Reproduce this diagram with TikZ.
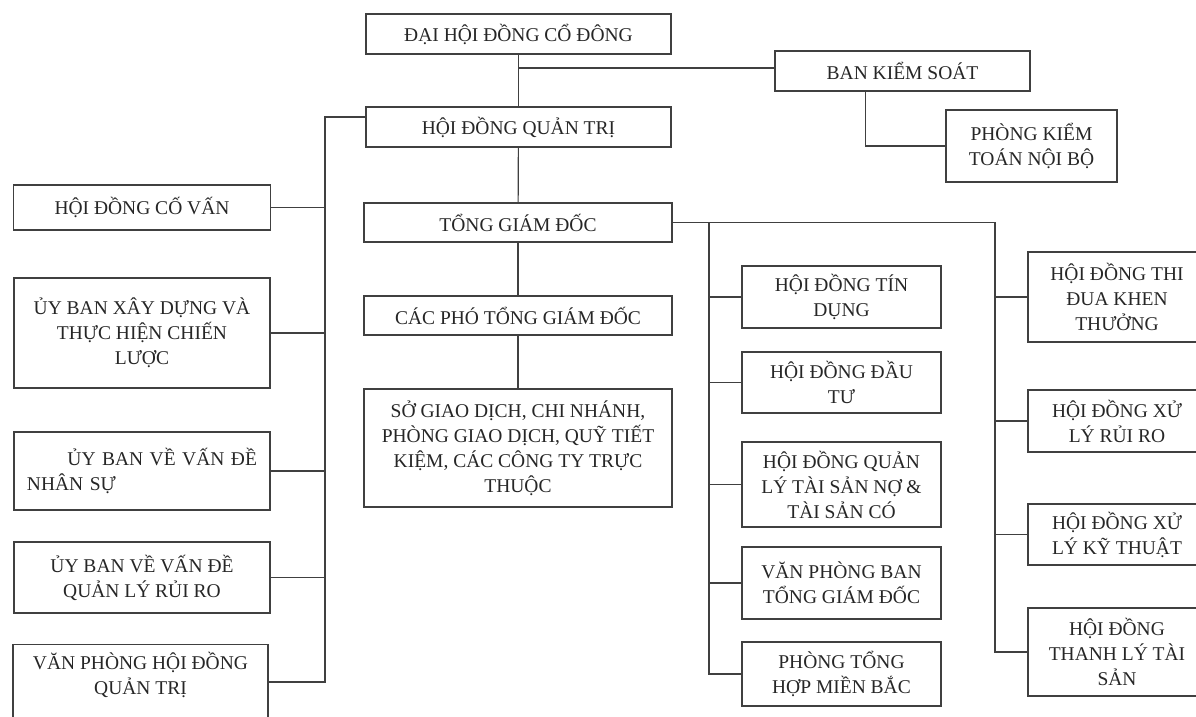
\documentclass[tikz,border=0pt]{standalone}
\usepackage{fontspec}
\setmainfont{Liberation Serif}
\usetikzlibrary{calc}

\begin{document}
\begin{tikzpicture}[x=1pt,y=-1pt]
  \tikzset{box/.style={draw=black!75,line width=1.2pt,align=center,inner sep=2pt,
      text=black!85,font=\fontsize{19.5}{25}\selectfont}}
  \tikzset{link/.style={draw=black!75,line width=1.2pt}}
  \useasboundingbox (0,0) rectangle (1196,716);
  \clip (0,0) rectangle (1196,716);

  % Top of the chart
  \node[box,minimum width=305pt,minimum height=40pt] (dhdcd) at (518.5,34) {ĐẠI HỘI ĐỒNG CỔ ĐÔNG};
  \node[box,minimum width=255pt,minimum height=40pt] (bks) at (902.5,71) {BAN KIỂM SOÁT};
  \node[box,minimum width=171pt,minimum height=72pt] (pktnb) at (1031.5,146) {PHÒNG KIỂM\\TOÁN NỘI BỘ};
  \node[box,minimum width=305pt,minimum height=40pt] (hdqt) at (518.5,127) {HỘI ĐỒNG QUẢN TRỊ};

  % Left column
  \node[box,minimum width=257pt,minimum height=45pt] (hdcv) at (142,207.5) {HỘI ĐỒNG CỐ VẤN};
  \node[box,minimum width=256pt,minimum height=110pt] (uyxd) at (142,333) {ỦY BAN XÂY DỰNG VÀ\\THỰC HIỆN CHIẾN\\LƯỢC};
  \node[box,minimum width=256pt,minimum height=78pt,text width=230pt,align=left] (uyns) at (142,471)
    {\hspace*{\fill}ỦY BAN VỀ VẤN ĐỀ\hspace*{\fill}\\NHÂN SỰ\\[-10pt]};
  \node[box,minimum width=256pt,minimum height=71pt] (uyrr) at (142,577.5) {ỦY BAN VỀ VẤN ĐỀ\\QUẢN LÝ RỦI RO};
  \node[box,minimum width=255pt,anchor=north,inner ysep=8pt,text depth=50pt] (vphdqt) at (140.5,644)
    {VĂN PHÒNG HỘI ĐỒNG\\QUẢN TRỊ};

  % Centre column
  \node[box,minimum width=308pt,minimum height=39pt] (tgd) at (518,222.5) {TỔNG GIÁM ĐỐC};
  \node[box,minimum width=308pt,minimum height=39pt] (ptgd) at (518,315.5) {CÁC PHÓ TỔNG GIÁM ĐỐC};
  \node[box,minimum width=308pt,minimum height=118pt] (sgd) at (518,448)
    {SỞ GIAO DỊCH, CHI NHÁNH,\\PHÒNG GIAO DỊCH, QUỸ TIẾT\\KIỆM, CÁC CÔNG TY TRỰC\\THUỘC};

  % Councils under the CEO
  \node[box,minimum width=199pt,minimum height=62pt] (hdtd) at (841.5,297) {HỘI ĐỒNG TÍN\\DỤNG};
  \node[box,minimum width=199pt,minimum height=61pt] (hddt) at (841.5,382.5) {HỘI ĐỒNG ĐẦU\\TƯ};
  \node[box,minimum width=199pt,minimum height=85pt] (hdqlts) at (841.5,484.5) {HỘI ĐỒNG QUẢN\\LÝ TÀI SẢN NỢ \&\\TÀI SẢN CÓ};
  \node[box,minimum width=199pt,minimum height=72pt] (vpbtgd) at (841.5,583) {VĂN PHÒNG BAN\\TỔNG GIÁM ĐỐC};
  \node[box,minimum width=199pt,minimum height=64pt] (pthmb) at (841.5,674) {PHÒNG TỔNG\\HỢP MIỀN BẮC};

  \node[box,minimum width=178pt,minimum height=90pt] (hdtdkt) at (1117,297) {HỘI ĐỒNG THI\\ĐUA KHEN\\THƯỞNG};
  \node[box,minimum width=178pt,minimum height=62pt] (hdxlrr) at (1117,421) {HỘI ĐỒNG XỬ\\LÝ RỦI RO};
  \node[box,minimum width=178pt,minimum height=61pt] (hdxlkt) at (1117,534.5) {HỘI ĐỒNG XỬ\\LÝ KỸ THUẬT};
  \node[box,minimum width=178pt,minimum height=88pt] (hdtlts) at (1117,652) {HỘI ĐỒNG\\THANH LÝ TÀI\\SẢN};

  % Bus lines
  \coordinate (lbus) at (325,117);
  \coordinate (mbus) at (709,222.5);
  \coordinate (rbus) at (995,222.5);

  % Connectors
  \draw[link] (dhdcd) -- (hdqt);
  \draw[link] (dhdcd.south |- 0,68) -- (bks.west |- 0,68);
  \draw[link] ([xshift=-37pt]bks.south) |- (pktnb.west);
  \draw[link] (hdqt) -- (tgd);
  \draw[link] (tgd) -- (ptgd);
  \draw[link] (ptgd) -- (sgd);

  \draw[link] (hdqt.west |- lbus) -- (lbus) -- (lbus |- 0,682) -- ([yshift=-38pt]vphdqt.north east);
  \draw[link] (hdcv.east) -- (hdcv.east -| lbus);
  \draw[link] (uyxd.east) -- (uyxd.east -| lbus);
  \draw[link] (uyns.east) -- (uyns.east -| lbus);
  \draw[link] (uyrr.east) -- (uyrr.east -| lbus);

  \draw[link] (tgd.east) -- (rbus) -- (rbus |- hdtlts.west) -- (hdtlts.west);
  \draw[link] (mbus) -- (mbus |- pthmb.west) -- (pthmb.west);
  \draw[link] (mbus |- hdtd.west) -- (hdtd.west);
  \draw[link] (mbus |- hddt.west) -- (hddt.west);
  \draw[link] (mbus |- hdqlts.west) -- (hdqlts.west);
  \draw[link] (mbus |- vpbtgd.west) -- (vpbtgd.west);
  \draw[link] (rbus |- hdtdkt.west) -- (hdtdkt.west);
  \draw[link] (rbus |- hdxlrr.west) -- (hdxlrr.west);
  \draw[link] (rbus |- hdxlkt.west) -- (hdxlkt.west);
\end{tikzpicture}
\end{document}
